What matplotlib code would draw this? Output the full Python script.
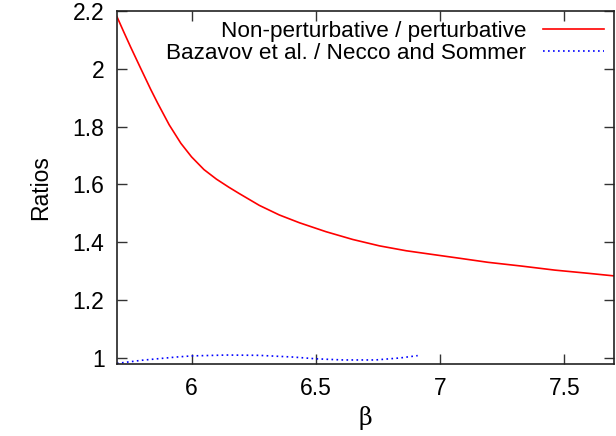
import matplotlib.pyplot as plt

plt.rcParams["font.family"] = ["Liberation Sans", "DejaVu Sans"]

# Non-perturbative / perturbative ratio
beta_np = [5.70, 5.728, 5.755, 5.795, 5.836, 5.863, 5.91, 5.957, 6.0, 6.05,
           6.10, 6.15, 6.192, 6.273, 6.353, 6.434, 6.541, 6.649, 6.756, 6.864,
           6.971, 7.079, 7.193, 7.328, 7.462, 7.596, 7.70]
ratio_np = [2.180, 2.126, 2.075, 2.002, 1.928, 1.882, 1.806, 1.742, 1.695, 1.651,
            1.618, 1.590, 1.568, 1.527, 1.494, 1.467, 1.436, 1.409, 1.387, 1.370,
            1.357, 1.344, 1.330, 1.317, 1.303, 1.292, 1.283]

# Bazavov et al. / Necco and Sommer
beta_bz = [5.70, 5.80, 5.937, 6.0, 6.14, 6.27, 6.41, 6.5, 6.61, 6.74, 6.84, 6.91]
ratio_bz = [0.980, 0.991, 1.002, 1.006, 1.009, 1.008, 1.002, 0.996, 0.992, 0.992,
            0.999, 1.007]

fig = plt.figure(figsize=(6.16, 4.36), dpi=100)
ax = fig.add_axes([117 / 616, 1 - 364 / 436, 497 / 616, 353 / 436])

ax.plot(beta_np, ratio_np, color="#ff0000", lw=1.2,
        label="Non-perturbative / perturbative")
ax.plot(beta_bz, ratio_bz, color="#0000ff", lw=1.2, ls=(0, (1, 2)),
        label="Bazavov et al. / Necco and Sommer")

ax.set_xlim(5.7, 7.7)
ax.set_ylim(0.978, 2.2)
ax.set_xticks([6, 6.5, 7, 7.5])
ax.set_xticklabels(["6", "6.5", "7", "7.5"])
ax.set_yticks([1, 1.2, 1.4, 1.6, 1.8, 2, 2.2])
ax.set_yticklabels(["1", "1.2", "1.4", "1.6", "1.8", "2", "2.2"])
ax.tick_params(direction="in", length=7, width=1, top=True, right=True,
               labelsize=16.5, pad=9, color="#333333")
for s in ax.spines.values():
    s.set_linewidth(1.2)
    s.set_color("#222222")

ax.set_xlabel("β", fontsize=17, family="DejaVu Serif", labelpad=5)
ax.set_ylabel("Ratios", fontsize=16.5, labelpad=15)

ax.legend(loc="upper right", frameon=False, markerfirst=False, fontsize=16.2,
          handlelength=2.7, handletextpad=0.75, labelspacing=0.02,
          borderaxespad=0.05)

fig.savefig("out.png", dpi=100)
